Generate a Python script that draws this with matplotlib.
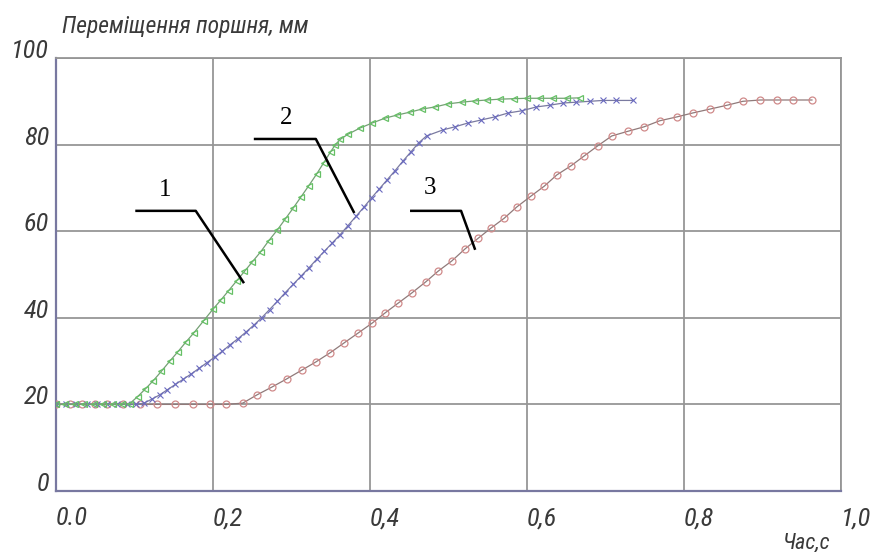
import matplotlib
matplotlib.use("Agg")
import matplotlib.pyplot as plt
from matplotlib import font_manager

# curve 1 (green triangles)
green_t = [0.000, 0.012, 0.024, 0.036, 0.048, 0.060, 0.072, 0.084, 0.094,
           0.104, 0.114, 0.124, 0.134, 0.145, 0.155, 0.165, 0.176, 0.188, 0.200,
           0.210, 0.220, 0.230, 0.240, 0.250, 0.261, 0.271, 0.282, 0.292, 0.302,
           0.312, 0.322, 0.332, 0.341, 0.350, 0.356,
           0.362, 0.372, 0.387, 0.403, 0.419, 0.434, 0.451, 0.466, 0.483, 0.499,
           0.517, 0.534, 0.549, 0.566, 0.583, 0.600, 0.617, 0.633, 0.651, 0.667]
green_s = [20.0, 20.0, 20.0, 20.0, 20.0, 20.0, 20.0, 20.0, 20.2,
           21.8, 23.6, 25.5, 27.6, 30.0, 32.1, 34.3, 36.6, 39.3, 42.0,
           44.1, 46.3, 48.5, 50.7, 52.9, 55.3, 57.8, 60.3, 62.8, 65.3,
           67.9, 70.5, 73.2, 75.8, 78.4, 80.0,
           81.2, 82.4, 83.8, 85.0, 86.1, 86.8, 87.5, 88.2, 88.7, 89.4,
           89.8, 90.1, 90.3, 90.5, 90.6, 90.7, 90.7, 90.7, 90.7, 90.8]

# curve 2 (blue crosses)
blue_t = [0.000, 0.013, 0.026, 0.039, 0.052, 0.065, 0.078, 0.091, 0.102,
          0.112, 0.122, 0.132, 0.142, 0.152, 0.162, 0.172, 0.182, 0.192, 0.202,
          0.212, 0.222, 0.232, 0.242, 0.252, 0.262,
          0.272, 0.282, 0.292, 0.302, 0.312, 0.322, 0.332, 0.342, 0.352, 0.362,
          0.372, 0.382, 0.392, 0.402, 0.412, 0.422, 0.432, 0.442, 0.452, 0.462,
          0.472, 0.493, 0.508, 0.525, 0.542, 0.559, 0.576, 0.593, 0.612, 0.629,
          0.646, 0.663, 0.680, 0.697, 0.714, 0.735]
blue_s = [20.0, 20.0, 20.0, 20.0, 20.0, 20.0, 20.0, 20.0, 20.0,
          20.3, 21.2, 22.2, 23.4, 24.6, 25.8, 27.0, 28.3, 29.6, 30.9,
          32.3, 33.8, 35.2, 36.7, 38.3, 40.0,
          41.9, 43.8, 45.8, 47.7, 49.6, 51.5, 53.5, 55.4, 57.3, 59.2,
          61.3, 63.4, 65.5, 67.7, 69.8, 71.9, 74.0, 76.2, 78.3, 80.4,
          82.0, 83.4, 84.1, 85.0, 85.7, 86.4, 87.3, 87.8, 88.7, 89.1,
          89.6, 89.8, 90.0, 90.2, 90.2, 90.2]

# curve 3 (red circles)
red_t = [0.000, 0.018, 0.033, 0.050, 0.065, 0.085, 0.107, 0.129, 0.152, 0.174,
         0.196, 0.217,
         0.238, 0.256, 0.275, 0.294, 0.313, 0.331, 0.349, 0.367, 0.385, 0.403,
         0.419, 0.436, 0.453, 0.471, 0.487, 0.504, 0.521, 0.538, 0.554, 0.571,
         0.587, 0.605, 0.622, 0.638, 0.656, 0.673, 0.690, 0.708,
         0.729, 0.749, 0.769, 0.791, 0.811, 0.833, 0.855, 0.875, 0.897, 0.918,
         0.939, 0.963]
red_s = [20.0, 20.0, 20.0, 20.0, 20.0, 20.0, 20.0, 20.0, 20.0, 20.0,
         20.0, 20.0,
         20.3, 22.2, 24.0, 25.9, 27.9, 29.8, 31.9, 34.2, 36.5, 38.8,
         41.1, 43.4, 45.7, 48.3, 50.8, 53.1, 55.9, 58.4, 60.7, 63.0,
         65.6, 68.1, 70.4, 73.0, 75.1, 77.4, 79.7, 82.0,
         83.1, 84.1, 85.5, 86.4, 87.3, 88.2, 89.1, 90.0, 90.3, 90.3,
         90.3, 90.3]

x_ticks = [0.0, 0.2, 0.4, 0.6, 0.8, 1.0]
x_labels = ["0.0", "0,2", "0,4", "0,6", "0,8", "1,0"]
y_ticks = [0, 20, 40, 60, 80, 100]
y_labels = ["0", "20", "40", "60", "80", "100"]

# leader lines for curve numbers: label position, then polyline
callouts = {
    "1": ((0.139, 69.5), [0.101, 0.178, 0.2395], [64.7, 64.7, 48.0]),
    "2": ((0.293, 86.1), [0.252, 0.331, 0.380], [81.3, 81.3, 64.2]),
    "3": ((0.476, 70.0), [0.451, 0.516, 0.534], [64.7, 64.7, 55.7]),
}

names = {f.name for f in font_manager.fontManager.ttflist}
narrow = next((n for n in ["Liberation Sans Narrow", "Roboto Condensed",
                           "Open Sans Condensed"] if n in names), "DejaVu Sans")
txt = dict(family=narrow, style="italic", stretch="condensed", color="#3a3a3a")

fig = plt.figure(figsize=(8.71, 5.52), dpi=100)
ax = fig.add_axes([56 / 871, 1 - 491 / 552, 785 / 871, 433 / 552])

ax.plot(red_t, red_s, color="#907a7a", lw=0.9, marker="o", ms=5,
        mfc="none", mec="#d08a8a", mew=0.9, zorder=3)
ax.plot(blue_t, blue_s, color="#7a7aa0", lw=0.9, marker="x", ms=5,
        mec="#6a6ac0", mew=0.8, zorder=4)
ax.plot(green_t, green_s, color="#74a074", lw=0.9, marker="<", ms=4.5,
        mfc="none", mec="#66c066", mew=0.9, zorder=5)

for num, (pos, lx, ly) in callouts.items():
    ax.plot(lx, ly, color="black", lw=1.8, zorder=6, solid_capstyle="butt")
    ax.text(pos[0], pos[1], num, family="Liberation Serif", fontsize=18,
            ha="center", va="center", zorder=6)

ax.set_xlim(0, 1.0)
ax.set_ylim(0, 100)
ax.set_xticks(x_ticks)
ax.set_xticklabels(x_labels, fontsize=19, **txt)
ax.set_yticks(y_ticks)
ax.set_yticklabels(y_labels, fontsize=19, **txt)
for lab in ax.get_xticklabels():
    lab.set_ha("left")
for lab in ax.get_yticklabels():
    lab.set_va("baseline")
ax.tick_params(axis="both", length=0)
ax.tick_params(axis="x", pad=11)
ax.tick_params(axis="y", pad=5)

ax.grid(True, color="#969696", lw=1.3)
ax.set_axisbelow(True)
for side in ["top", "right"]:
    ax.spines[side].set_color("#969696")
    ax.spines[side].set_linewidth(1.3)
for side in ["left", "bottom"]:
    ax.spines[side].set_color("#7878a0")
    ax.spines[side].set_linewidth(1.6)

fig.text(62 / 871, 1 - 27 / 552, "Переміщення поршня, мм", fontsize=17,
         ha="left", va="center", **txt)
fig.text(783 / 871, 1 - 543 / 552, "Час,с", fontsize=16,
         ha="left", va="center", **txt)

fig.savefig("out.png", dpi=100, facecolor="white")
